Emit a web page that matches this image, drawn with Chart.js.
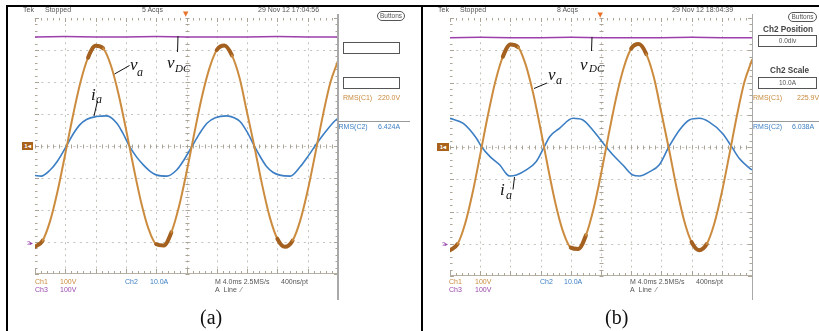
<!DOCTYPE html>
<html>
<head>
<meta charset="utf-8">
<script src="https://cdn.jsdelivr.net/npm/chart.js@4.4.1/dist/chart.umd.min.js"></script>
<style>
  html,body{margin:0;padding:0;background:#fff;}
  #page{position:relative;width:819px;height:331px;overflow:hidden;background:#fff;font-family:"Liberation Sans Narrow","Liberation Sans",Arial,sans-serif;}
  .abs{position:absolute;white-space:nowrap;}
  .sm{position:absolute;white-space:nowrap;font-size:7px;line-height:8px;color:#555;}
  .or{color:#c98a3c;} .bl{color:#3d7fc2;} .pu{color:#9a48ad;}
  .box{position:absolute;border:1px solid #555;background:#fff;box-sizing:border-box;font-size:6.5px;line-height:10px;text-align:center;color:#555;}
  .bold{position:absolute;white-space:nowrap;font-family:"Liberation Sans",Arial,sans-serif;font-weight:bold;font-size:8.2px;line-height:9px;color:#444;}
  .lab{position:absolute;white-space:nowrap;font-family:"Liberation Serif","Times New Roman",serif;font-style:italic;line-height:1;color:#111;}
  .cap{position:absolute;white-space:nowrap;font-family:"Liberation Serif","Times New Roman",serif;font-size:20px;line-height:1;color:#111;}
  canvas{position:absolute;}
</style>
</head>
<body>
<div id="page">
  <!-- frame lines -->
  <div class="abs" style="left:6px;top:4.5px;width:813px;height:2px;background:#000;"></div>
  <div class="abs" style="left:6px;top:4.5px;width:2px;height:327px;background:#000;"></div>
  <div class="abs" style="left:420.5px;top:4.5px;width:2px;height:327px;background:#000;"></div>

  <canvas id="chartA" width="313" height="266" style="left:30px;top:13px;"></canvas>
  <canvas id="chartB" width="312" height="268" style="left:445px;top:13px;"></canvas>

  <!-- screen right edges -->
  <div class="abs" style="left:337px;top:14px;width:1.5px;height:286px;background:#a9a9a9;"></div>
  <div class="abs" style="left:751.5px;top:14px;width:1.5px;height:286px;background:#a9a9a9;"></div>

  <!-- ===== Panel (a) texts ===== -->
  <div class="sm" style="left:23px;top:6px;">Tek</div>
  <div class="sm" style="left:45px;top:6px;">Stopped</div>
  <div class="sm" style="left:142px;top:6px;">5 Acqs</div>
  <div class="sm" style="left:258px;top:6px;">29 Nov 12 17:04:56</div>
  <div class="box" style="left:377px;top:11px;width:28px;height:10px;border-radius:5px;line-height:8px;">Buttons</div>
  <div class="box" style="left:343px;top:42px;width:57px;height:12px;"></div>
  <div class="box" style="left:343px;top:77px;width:57px;height:12px;"></div>
  <div class="sm or" style="left:343px;top:94px;">RMS(C1)</div>
  <div class="sm or" style="left:378px;top:94px;">220.0V</div>
  <div class="abs" style="left:338px;top:121px;width:72px;height:1px;background:#999;"></div>
  <div class="sm bl" style="left:338.5px;top:123px;">RMS(C2)</div>
  <div class="sm bl" style="left:378px;top:123px;">6.424A</div>

  <div class="sm or" style="left:35px;top:278px;">Ch1</div>
  <div class="sm or" style="left:60px;top:278px;">100V</div>
  <div class="sm pu" style="left:35px;top:285.5px;">Ch3</div>
  <div class="sm pu" style="left:60px;top:285.5px;">100V</div>
  <div class="sm bl" style="left:125px;top:278px;">Ch2</div>
  <div class="sm bl" style="left:150px;top:278px;">10.0A</div>
  <div class="sm" style="left:215px;top:278px;">M 4.0ms 2.5MS/s</div>
  <div class="sm" style="left:281px;top:278px;">400ns/pt</div>
  <div class="sm" style="left:215px;top:285.5px;">A&nbsp; Line&nbsp; &#x2044;</div>

  <!-- markers (a) -->
  <div class="abs" style="left:22px;top:142px;width:11px;height:8px;background:#a8621c;color:#fff;font:bold 6px/8px 'Liberation Sans',Arial,sans-serif;text-align:center;">1&#9666;</div>
  <div class="abs" style="left:27px;top:239px;color:#9a48ad;font:6px/8px 'Liberation Sans',Arial,sans-serif;">3&#9656;</div>
  <div class="abs" style="left:183px;top:11px;color:#e8742a;font:7px/7px 'DejaVu Sans',sans-serif;">&#9660;</div>

  <!-- annotations (a) -->
  <div class="lab" style="left:130px;top:56px;font-size:17px;">v</div>
  <div class="lab" style="left:137px;top:66px;font-size:12px;">a</div>
  <div class="lab" style="left:167px;top:54px;font-size:17px;">v</div>
  <div class="lab" style="left:175px;top:63px;font-size:11px;">DC</div>
  <div class="lab" style="left:91px;top:86px;font-size:17px;">i</div>
  <div class="lab" style="left:96px;top:93px;font-size:12px;">a</div>
  <div class="cap" style="left:200px;top:307px;">(a)</div>

  <!-- ===== Panel (b) texts ===== -->
  <div class="sm" style="left:438px;top:6px;">Tek</div>
  <div class="sm" style="left:460px;top:6px;">Stopped</div>
  <div class="sm" style="left:557px;top:6px;">8 Acqs</div>
  <div class="sm" style="left:672px;top:6px;">29 Nov 12 18:04:39</div>
  <div class="box" style="left:788px;top:12px;width:29px;height:10px;border-radius:5px;line-height:8px;">Buttons</div>
  <div class="bold" style="left:763px;top:24.5px;">Ch2 Position</div>
  <div class="box" style="left:758px;top:35px;width:59px;height:12px;">0.0div</div>
  <div class="bold" style="left:770px;top:65.5px;">Ch2 Scale</div>
  <div class="box" style="left:758px;top:77px;width:59px;height:12px;">10.0A</div>
  <div class="sm or" style="left:753px;top:94px;">RMS(C1)</div>
  <div class="sm or" style="left:797px;top:94px;">225.9V</div>
  <div class="abs" style="left:752px;top:121px;width:67px;height:1px;background:#999;"></div>
  <div class="sm bl" style="left:753px;top:123px;">RMS(C2)</div>
  <div class="sm bl" style="left:792px;top:123px;">6.038A</div>

  <div class="sm or" style="left:449px;top:278px;">Ch1</div>
  <div class="sm or" style="left:475px;top:278px;">100V</div>
  <div class="sm pu" style="left:449px;top:285.5px;">Ch3</div>
  <div class="sm pu" style="left:475px;top:285.5px;">100V</div>
  <div class="sm bl" style="left:540px;top:278px;">Ch2</div>
  <div class="sm bl" style="left:564px;top:278px;">10.0A</div>
  <div class="sm" style="left:630px;top:278px;">M 4.0ms 2.5MS/s</div>
  <div class="sm" style="left:696px;top:278px;">400ns/pt</div>
  <div class="sm" style="left:630px;top:285.5px;">A&nbsp; Line&nbsp; &#x2044;</div>

  <div class="abs" style="left:437px;top:143px;width:12px;height:8px;background:#a8621c;color:#fff;font:bold 6px/8px 'Liberation Sans',Arial,sans-serif;text-align:center;">1&#9666;</div>
  <div class="abs" style="left:442px;top:240px;color:#9a48ad;font:6px/8px 'Liberation Sans',Arial,sans-serif;">3&#9656;</div>
  <div class="abs" style="left:597.5px;top:12px;color:#e8742a;font:7px/7px 'DejaVu Sans',sans-serif;">&#9660;</div>

  <div class="lab" style="left:580px;top:56px;font-size:17px;">v</div>
  <div class="lab" style="left:589px;top:63px;font-size:11px;">DC</div>
  <div class="lab" style="left:548px;top:66px;font-size:17px;">v</div>
  <div class="lab" style="left:556px;top:74px;font-size:12px;">a</div>
  <div class="lab" style="left:500px;top:181px;font-size:17px;">i</div>
  <div class="lab" style="left:506px;top:189px;font-size:12px;">a</div>
  <div class="cap" style="left:605px;top:307px;">(b)</div>

  <!-- leader lines -->
  <svg class="abs" style="left:0;top:0;" width="819" height="331">
    <g stroke="#111" stroke-width="1" fill="none">
      <line x1="114.5" y1="74" x2="129.5" y2="65.5"/>
      <line x1="178" y1="36" x2="177.5" y2="52"/>
      <line x1="97.5" y1="101" x2="94" y2="116"/>
      <line x1="592" y1="37" x2="591.5" y2="51"/>
      <line x1="534" y1="88.5" x2="547" y2="83"/>
      <line x1="514.5" y1="177" x2="513" y2="189.5"/>
    </g>
  </svg>
</div>

<script>
// ---------- DATA ----------
// time axis (ms) for the line-voltage traces, 4 ms/div, 10 div
const timeMs = [0,1,2,3,4,5,6,7,8,9,10,11,12,13,14,15,16,17,18,19,20,21,22,23,24,25,26,27,28,29,30,31,32,33,34,35,36,37,38,39,40];

// (a) phase voltage v_a (V), Ch1 100 V/div
const vaA = [-315,-296,-234,-139,-24,94,199,276,313,305,253,165,54,-65,-175,-260,-307,-311,-270,-190,-83,36,150,241,300,314,283,213,104,-6,-123,-223,-290,-315,-296,-234,-139,-24,95,199,266];
// (a) phase current i_a (A), Ch2 10 A/div
const iaTimeA = [0,0.8,2,3,4.2,5,5.9,6.8,8.1,9.5,10.8,11.6,12.5,13.4,14.3,15.2,16.1,17.4,18.7,19.7,20.7,21.7,22.7,23.8,25.3,26.3,27.1,28,29,29.8,30.6,31.4,32.3,33.7,35,36.1,37.2,38.4,39.6,40];
const iaA = [-9.2,-9.4,-7.5,-4.6,0.2,3.6,6.6,8.3,9.2,9.4,7.1,4.0,-0.2,-3.4,-5.9,-7.9,-9.1,-9.4,-7.5,-4.2,-0.2,3.8,7.1,8.8,9.4,8.8,7.6,4.4,-0.2,-3.6,-6.5,-8.2,-9.1,-9.4,-6.5,-3.0,0.8,4.6,7.9,8.6];
// (a) DC-link voltage v_DC (V), Ch3 100 V/div
const dcTime = [0,4,8,12,16,20,24,28,32,36,40];
const vdcA = [644,645,644,644,645,644,644,644,645,644,644];

// (b) phase voltage v_a (V)
const vaB = [-320,-301,-238,-141,-24,96,202,280,318,310,257,168,55,-66,-178,-264,-312,-316,-274,-193,-84,37,152,245,305,319,288,216,106,-6,-125,-227,-295,-320,-301,-238,-141,-24,97,202,270];
// (b) phase current i_a (A)
const iaTimeB = [0,1.76,3.5,4.18,5.3,6.6,7.5,7.9,8.8,10.1,11.4,12.5,13.2,14.5,16.3,17.6,18.9,20.7,21.6,22.9,24.2,25.1,26.4,27.7,29,30.4,31.7,33,34.3,36.1,37.3,38.3,39.7,40];
const iaB = [8.9,7.3,2.7,0.1,-3.0,-5.6,-8.4,-9.0,-8.7,-7.1,-4.6,0.1,3.2,5.8,8.9,8.4,5.3,0,-2.5,-5.6,-8.7,-9.0,-7.7,-5.6,0.1,5.3,8.4,8.9,7.8,4.2,0.1,-3.5,-6.6,-7.1];
// (b) DC-link voltage
const vdcB = [639,640,639,639,640,639,639,639,640,639,639];

// ---------- graticule plugin ----------
const graticule = {
  id: 'graticule',
  beforeDatasetsDraw(chart) {
    const ctx = chart.ctx, xs = chart.scales.x, ys = chart.scales.y;
    const L = xs.getPixelForValue(0), R = xs.getPixelForValue(40);
    const T = ys.getPixelForValue(400), B = ys.getPixelForValue(-400);
    const dx = (R - L) / 10, dy = (B - T) / 8;
    ctx.save();
    ctx.strokeStyle = 'rgba(180,180,170,0.8)';
    ctx.lineWidth = 1;
    ctx.setLineDash([2, dx / 5 - 2]);
    for (let i = 1; i < 10; i++) {
      const x = Math.round(xs.getPixelForValue(i * 4)) + 0.5;
      ctx.beginPath(); ctx.moveTo(x, T); ctx.lineTo(x, B); ctx.stroke();
    }
    ctx.setLineDash([2, dy / 5 - 2]);
    for (let j = 1; j < 8; j++) {
      const y = Math.round(ys.getPixelForValue(400 - j * 100)) + 0.5;
      ctx.beginPath(); ctx.moveTo(L, y); ctx.lineTo(R, y); ctx.stroke();
    }
    ctx.setLineDash([]);
    ctx.strokeStyle = 'rgba(165,160,145,0.95)';
    const cx = Math.round(xs.getPixelForValue(20)) + 0.5;
    const cy = Math.round(ys.getPixelForValue(0)) + 0.5;
    ctx.beginPath();
    for (let k = 0; k <= 50; k++) {
      const x = Math.round(L + k * dx / 5) + 0.5;
      const big = k % 5 === 0;
      ctx.moveTo(x, cy - 2); ctx.lineTo(x, cy + 2);
      ctx.moveTo(x, T); ctx.lineTo(x, T + (big ? 4 : 2.5));
      ctx.moveTo(x, B); ctx.lineTo(x, B - (big ? 5 : 3));
    }
    for (let k = 0; k <= 40; k++) {
      const y = Math.round(T + k * dy / 5) + 0.5;
      const big = k % 5 === 0;
      ctx.moveTo(cx - 2, y); ctx.lineTo(cx + 2, y);
      ctx.moveTo(L, y); ctx.lineTo(L + (big ? 4 : 2.5), y);
      ctx.moveTo(R, y); ctx.lineTo(R - (big ? 4 : 2.5), y);
    }
    ctx.stroke();
    ctx.strokeStyle = 'rgba(175,170,155,0.9)';
    ctx.beginPath(); ctx.moveTo(L, Math.round(B) - 0.5); ctx.lineTo(R, Math.round(B) - 0.5); ctx.stroke();
    ctx.restore();
  }
};

function makeChart(id, va, iaT, ia, vdc, y3min) {
  const peak = c => (Math.abs(c.p0.parsed.y) > 265 && Math.abs(c.p1.parsed.y) > 265);
  return new Chart(document.getElementById(id), {
    type: 'line',
    data: {
      datasets: [
        {
          label: 'v_a', yAxisID: 'y',
          data: timeMs.map((t, i) => ({ x: t, y: va[i] })),
          borderColor: '#cc8c3f', borderWidth: 2,
          borderCapStyle: 'round', borderJoinStyle: 'round',
          cubicInterpolationMode: 'monotone',
          segment: {
            borderColor: c => peak(c) ? '#a3601f' : undefined,
            borderWidth: c => peak(c) ? 4 : undefined
          }
        },
        {
          label: 'i_a', yAxisID: 'y2',
          data: iaT.map((t, i) => ({ x: t, y: ia[i] })),
          borderColor: '#3b7ec4', borderWidth: 1.6,
          cubicInterpolationMode: 'monotone'
        },
        {
          label: 'v_DC', yAxisID: 'y3',
          data: dcTime.map((t, i) => ({ x: t, y: vdc[i] })),
          borderColor: '#9c3fab', borderWidth: 1.5,
          tension: 0
        }
      ]
    },
    options: {
      responsive: false, animation: false, devicePixelRatio: 1,
      layout: { padding: 5 },
      elements: { point: { radius: 0 } },
      plugins: { legend: { display: false }, tooltip: { enabled: false } },
      scales: {
        x: { type: 'linear', min: 0, max: 40, display: false },
        y: { type: 'linear', min: -400, max: 400, display: false },
        y2: { type: 'linear', min: -40, max: 40, display: false },
        y3: { type: 'linear', min: y3min, max: y3min + 800, display: false }
      }
    },
    plugins: [graticule]
  });
}

makeChart('chartA', vaA, iaTimeA, iaA, vdcA, -97);
makeChart('chartB', vaB, iaTimeB, iaB, vdcB, -100);
</script>
</body>
</html>
